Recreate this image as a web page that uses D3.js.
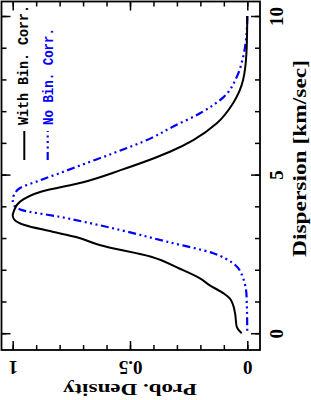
<!DOCTYPE html>
<html>
<head>
<meta charset="utf-8">
<script src="https://cdn.jsdelivr.net/npm/d3@7"></script>
<style>
  html, body { margin: 0; padding: 0; background: #fff; }
  svg { display: block; }
</style>
</head>
<body>
<svg id="chart" width="311" height="400"></svg>
<script>
// ---- data (dispersion in km/sec, probability density) ----
const dispWith = [0, 0.2, 0.62, 0.88, 1.09, 1.25, 1.51, 1.72, 2.04, 2.41, 2.78, 3.03, 3.2, 3.41, 3.6, 3.72, 3.85, 4.14, 4.46, 4.76, 5.14, 5.72, 6.09, 6.62, 7.26, 7.98, 8.93, 10];
const densWith = [0.024, 0.045, 0.052, 0.06, 0.074, 0.10, 0.16, 0.20, 0.29, 0.41, 0.63, 0.73, 0.83, 0.95, 0.995, 1.0, 0.995, 0.97, 0.88, 0.70, 0.54, 0.33, 0.23, 0.13, 0.06, 0.018, 0.003, 0.0];
const dispNo = [0, 1.15, 1.78, 2.2, 2.52, 2.88, 3.25, 3.47, 3.67, 3.88, 4.05, 4.2, 4.35, 4.57, 4.83, 5.1, 5.35, 5.65, 6.15, 6.5, 6.94, 7.45, 8.08, 8.7, 9.46, 10];
const densNo = [0.0, 0.003, 0.02, 0.06, 0.145, 0.34, 0.54, 0.67, 0.80, 0.96, 0.995, 1.0, 0.995, 0.97, 0.88, 0.78, 0.69, 0.58, 0.41, 0.32, 0.20, 0.10, 0.045, 0.018, 0.003, 0.0];

const dispMajorTicks = [0, 5, 10];
const dispMinorTicks = [0, 1, 2, 3, 4, 5, 6, 7, 8, 9, 10];
const dispTickLabels = ["0", "5", "10"];
const densMajorTicks = [0, 0.5, 1];
const densMinorTicks = [0, 0.1, 0.2, 0.3, 0.4, 0.5, 0.6, 0.7, 0.8, 0.9, 1];
const densTickLabels = ["0", "0.5", "1"];

const seriesNames = ["With Bin. Corr.", "No Bin. Corr."];
const seriesColors = ["#000000", "#0000ff"];
const xTitle = "Dispersion [km/sec]";
const yTitle = "Prob. Density";

// ---- layout (chart is rotated: dispersion runs vertically, density horizontally) ----
const L = 1.5, T = 1.5, R = 260, B = 350;
const svg = d3.select("#chart");
const yD = d3.scaleLinear().domain([0, 10]).range([333.2, 16]);
const xP = d3.scaleLinear().domain([0, 1]).range([247.3, 12.7]);

const serif = "'Liberation Serif', 'DejaVu Serif', serif";
const mono = "'Liberation Mono', 'DejaVu Sans Mono', monospace";

// ---- curves ----
const line = d3.line()
  .x(d => xP(d.p))
  .y(d => yD(d.d))
  .curve(d3.curveMonotoneY);

function pts(ds, ps) {
  return ds.map((d, i) => ({ d: d, p: ps[i] })).sort((a, b) => b.d - a.d);
}

svg.append("path")
  .attr("d", line(pts(dispNo, densNo)))
  .attr("fill", "none")
  .attr("stroke", seriesColors[1])
  .attr("stroke-width", 2.2)
  .attr("stroke-dasharray", "8,3.5,2,3.5,2,3.5,2,3.5");

svg.append("path")
  .attr("d", line(pts(dispWith, densWith)))
  .attr("fill", "none")
  .attr("stroke", seriesColors[0])
  .attr("stroke-width", 2);

// ---- frame ----
svg.append("rect")
  .attr("x", L).attr("y", T)
  .attr("width", R - L).attr("height", B - T)
  .attr("fill", "none").attr("stroke", "#000").attr("stroke-width", 1.8);

// ---- axes ----
function styleAxis(g) {
  g.select(".domain").remove();
  g.selectAll(".tick line").attr("stroke", "#000").attr("stroke-width", 1.5);
}

// right (dispersion, labelled)
const gR = svg.append("g").attr("transform", `translate(${R},0)`)
  .call(d3.axisRight(yD).tickValues(dispMajorTicks).tickSize(-9).tickPadding(0)
    .tickFormat((d, i) => dispTickLabels[i]));
styleAxis(gR);
gR.selectAll(".tick text")
  .attr("x", null).attr("dy", null)
  .attr("text-anchor", "middle")
  .attr("transform", "translate(23,0) rotate(-90)")
  .attr("font-family", serif).attr("font-size", 19).attr("font-weight", "bold")
  .attr("fill", "#000");
const gRm = svg.append("g").attr("transform", `translate(${R},0)`)
  .call(d3.axisRight(yD).tickValues(dispMinorTicks).tickSize(-5).tickFormat(""));
styleAxis(gRm);

// left mirror
const gL = svg.append("g").attr("transform", `translate(${L},0)`)
  .call(d3.axisLeft(yD).tickValues(dispMajorTicks).tickSize(-9).tickFormat(""));
styleAxis(gL);
const gLm = svg.append("g").attr("transform", `translate(${L},0)`)
  .call(d3.axisLeft(yD).tickValues(dispMinorTicks).tickSize(-5).tickFormat(""));
styleAxis(gLm);

// bottom (density, labelled, upside down)
const gB = svg.append("g").attr("transform", `translate(0,${B})`)
  .call(d3.axisBottom(xP).tickValues(densMajorTicks).tickSize(-9).tickPadding(0)
    .tickFormat((d, i) => densTickLabels[i]));
styleAxis(gB);
gB.selectAll(".tick text")
  .attr("y", null).attr("dy", null)
  .attr("text-anchor", "middle")
  .attr("transform", "translate(0,10.7) rotate(180)")
  .attr("font-family", serif).attr("font-size", 19).attr("font-weight", "bold")
  .attr("fill", "#000");
const gBm = svg.append("g").attr("transform", `translate(0,${B})`)
  .call(d3.axisBottom(xP).tickValues(densMinorTicks).tickSize(-5).tickFormat(""));
styleAxis(gBm);

// top mirror
const gT = svg.append("g").attr("transform", `translate(0,${T})`)
  .call(d3.axisTop(xP).tickValues(densMajorTicks).tickSize(-9).tickFormat(""));
styleAxis(gT);
const gTm = svg.append("g").attr("transform", `translate(0,${T})`)
  .call(d3.axisTop(xP).tickValues(densMinorTicks).tickSize(-5).tickFormat(""));
styleAxis(gTm);

// ---- axis titles ----
svg.append("text")
  .attr("transform", "translate(306,158.5) rotate(-90)")
  .attr("text-anchor", "middle")
  .attr("font-family", serif).attr("font-size", 18).attr("font-weight", "bold")
  .attr("textLength", 197).attr("lengthAdjust", "spacingAndGlyphs")
  .text(xTitle);

svg.append("text")
  .attr("transform", "translate(130,384) rotate(180)")
  .attr("text-anchor", "middle")
  .attr("font-family", serif).attr("font-size", 17).attr("font-weight", "bold")
  .attr("textLength", 134).attr("lengthAdjust", "spacingAndGlyphs")
  .text(yTitle);

// ---- legend ----
const legX = [24.3, 47.7];
const legTextX = [28.3, 53];
const legLen = [120, 97];
seriesNames.forEach((name, i) => {
  svg.append("line")
    .attr("x1", legX[i]).attr("x2", legX[i])
    .attr("y1", 160).attr("y2", 131)
    .attr("stroke", seriesColors[i])
    .attr("stroke-width", i === 0 ? 2 : 2.2)
    .attr("stroke-dasharray", i === 0 ? null : "8,3.5,2,3.5,2,3.5,2,3.5");
  svg.append("text")
    .attr("transform", `translate(${legTextX[i]},125) rotate(-90)`)
    .attr("text-anchor", "start")
    .attr("font-family", mono).attr("font-size", 14).attr("font-weight", "bold")
    .attr("fill", seriesColors[i])
    .attr("textLength", legLen[i]).attr("lengthAdjust", "spacingAndGlyphs")
    .text(name);
});
</script>
</body>
</html>
